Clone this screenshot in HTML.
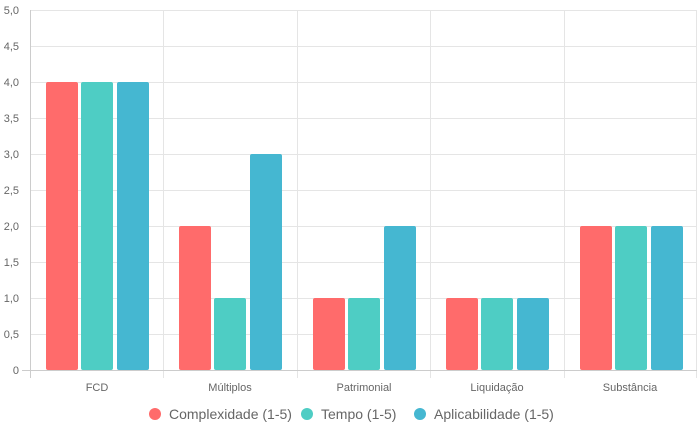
<!DOCTYPE html>
<html><head><meta charset="utf-8"><style>body{margin:0;background:#fff}svg{display:block;font-family:"Liberation Sans",sans-serif}</style></head>
<body>
<svg width="697" height="433" viewBox="0 0 697 433">
<g stroke="#e5e5e5" stroke-width="1">
<line x1="30" y1="10.5" x2="697" y2="10.5"/><line x1="30" y1="46.5" x2="697" y2="46.5"/><line x1="30" y1="82.5" x2="697" y2="82.5"/><line x1="30" y1="118.5" x2="697" y2="118.5"/><line x1="30" y1="154.5" x2="697" y2="154.5"/><line x1="30" y1="190.5" x2="697" y2="190.5"/><line x1="30" y1="226.5" x2="697" y2="226.5"/><line x1="30" y1="262.5" x2="697" y2="262.5"/><line x1="30" y1="298.5" x2="697" y2="298.5"/><line x1="30" y1="334.5" x2="697" y2="334.5"/>
<line x1="163.5" y1="10" x2="163.5" y2="378"/><line x1="297.5" y1="10" x2="297.5" y2="378"/><line x1="430.5" y1="10" x2="430.5" y2="378"/><line x1="564.5" y1="10" x2="564.5" y2="378"/><line x1="696.5" y1="10" x2="696.5" y2="378"/>
</g>
<g stroke="#cccccc"><line x1="30.5" y1="10" x2="30.5" y2="378"/><line x1="22" y1="370.5" x2="697" y2="370.5"/></g>
<g font-size="11" fill="#666" text-anchor="end">
<text x="19" y="14">5,0</text><text x="19" y="50">4,5</text><text x="19" y="86">4,0</text><text x="19" y="122">3,5</text><text x="19" y="158">3,0</text><text x="19" y="194">2,5</text><text x="19" y="230">2,0</text><text x="19" y="266">1,5</text><text x="19" y="302">1,0</text><text x="19" y="338">0,5</text><text x="19" y="374">0</text>
</g>
<g font-size="11" fill="#666" text-anchor="middle">
<text x="97" y="391">FCD</text><text x="230" y="391">Múltiplos</text><text x="364" y="391">Patrimonial</text><text x="497" y="391">Liquidação</text><text x="630" y="391">Substância</text>
</g>
<g>
<rect x="46" y="82" width="32" height="288" rx="2" fill="#ff6b6b"/><rect x="81" y="82" width="32" height="288" rx="2" fill="#4ecdc4"/><rect x="117" y="82" width="32" height="288" rx="2" fill="#45b7d1"/>
<rect x="179" y="226" width="32" height="144" rx="2" fill="#ff6b6b"/><rect x="214" y="298" width="32" height="72" rx="2" fill="#4ecdc4"/><rect x="250" y="154" width="32" height="216" rx="2" fill="#45b7d1"/>
<rect x="313" y="298" width="32" height="72" rx="2" fill="#ff6b6b"/><rect x="348" y="298" width="32" height="72" rx="2" fill="#4ecdc4"/><rect x="384" y="226" width="32" height="144" rx="2" fill="#45b7d1"/>
<rect x="446" y="298" width="32" height="72" rx="2" fill="#ff6b6b"/><rect x="481" y="298" width="32" height="72" rx="2" fill="#4ecdc4"/><rect x="517" y="298" width="32" height="72" rx="2" fill="#45b7d1"/>
<rect x="580" y="226" width="32" height="144" rx="2" fill="#ff6b6b"/><rect x="615" y="226" width="32" height="144" rx="2" fill="#4ecdc4"/><rect x="651" y="226" width="32" height="144" rx="2" fill="#45b7d1"/>
</g>
<g font-size="14" fill="#666">
<circle cx="155" cy="414" r="6" fill="#ff6b6b"/><text x="169" y="419">Complexidade (1-5)</text>
<circle cx="307" cy="414" r="6" fill="#4ecdc4"/><text x="321" y="419">Tempo (1-5)</text>
<circle cx="420" cy="414" r="6" fill="#45b7d1"/><text x="434" y="419">Aplicabilidade (1-5)</text>
</g>
</svg>
</body></html>
